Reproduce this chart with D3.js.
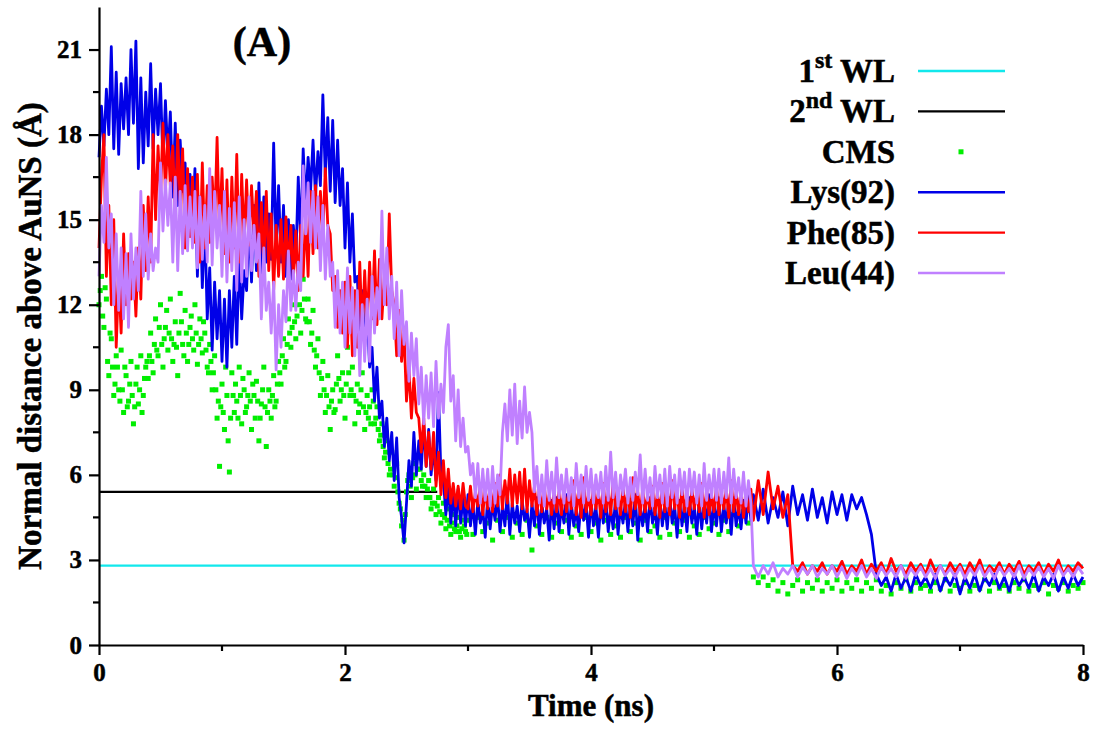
<!DOCTYPE html>
<html>
<head>
<meta charset="utf-8">
<script src="https://cdn.jsdelivr.net/npm/d3@7"></script>
<style>
  body { margin: 0; background: #fff; }
  svg { display: block; }
  text { font-family: "Liberation Serif", "Times New Roman", serif; font-weight: bold; fill: #000; stroke: #000; stroke-width: 0.5px; }
</style>
</head>
<body>
<div id="chart"></div>
<script>
// traces are read every 0.02 ns from 0 to 5.30 ns (early: 0-2.98, mid: 3.00-5.30),
// then every 0.04 ns from 5.32 to 8 ns (late)
const fine = 0.02, coarse = 0.04;
const tMid = 3, tLate = 5.32;

// Lys(92)
const lysEarly = [
  17.2, 19.0, 17.6, 19.6, 18.0, 21.1, 17.5, 20.2, 17.3, 19.8,
  18.2, 20.0, 18.0, 21.0, 18.4, 21.3, 16.8, 20.0, 17.0, 19.5,
  17.6, 20.5, 17.5, 19.6, 18.0, 19.8, 17.0, 19.2, 17.2, 18.8,
  15.8, 18.4, 15.5, 17.8, 16.0, 17.0, 14.6, 16.6, 14.8, 16.8,
  13.0, 15.8, 12.6, 15.0, 11.5, 13.3, 10.4, 12.8, 10.8, 12.5,
  10.0, 12.2, 9.8, 12.5, 10.5, 13.0, 10.6, 13.8, 11.5, 13.2,
  12.5, 15.0, 12.8, 15.5, 13.2, 16.3, 13.0, 15.8, 13.5, 15.2,
  13.6, 17.7, 14.0, 16.2, 13.5, 15.5, 13.0, 15.0, 12.9, 14.8,
  13.5, 16.5, 14.2, 17.5, 15.5, 17.2, 16.0, 17.8, 15.8, 17.4,
  16.2, 19.4, 16.5, 18.6, 16.0, 18.5, 15.6, 17.8, 15.5, 16.8,
  14.0, 16.3, 13.5, 15.2, 12.8, 13.0, 11.0, 12.5, 10.5, 11.8,
  9.8, 10.5, 8.6, 9.8, 8.0, 8.6, 7.0, 8.0, 6.5, 7.5,
  5.8, 7.3, 5.2, 4.5, 3.6, 5.0, 6.5, 5.6, 7.5, 6.0,
  7.2, 6.2, 7.8, 6.3, 7.6, 6.0, 7.0, 5.8, 8.9, 6.0,
  5.8, 4.6, 5.6, 4.3, 5.4, 4.2, 5.5, 4.3, 5.2, 4.2
];
const lysMid = [
  5.3, 4.2, 5.0, 3.9, 5.1, 4.3, 4.8, 3.8, 5.2, 4.1,
  5.0, 4.4, 5.3, 4.0, 4.9, 4.2, 5.4, 3.9, 5.0, 4.3,
  4.9, 4.0, 5.1, 4.4, 4.8, 3.8, 5.0, 4.2, 5.2, 3.9,
  5.0, 4.3, 4.8, 3.7, 5.1, 4.1, 5.2, 4.0, 4.9, 4.3,
  5.3, 3.9, 5.0, 4.2, 4.8, 4.0, 5.1, 4.4, 5.0, 3.8,
  5.1, 4.2, 4.9, 3.8, 5.0, 4.3, 5.2, 4.0, 4.8, 4.1,
  5.2, 3.9, 4.9, 4.3, 5.1, 4.0, 5.0, 4.2, 5.3, 3.7,
  4.9, 4.2, 5.0, 4.0, 5.2, 4.3, 4.8, 3.9, 5.1, 4.2,
  5.0, 4.1, 5.2, 4.3, 4.9, 3.8, 5.1, 4.2, 5.0, 4.0,
  5.2, 4.3, 4.9, 3.9, 5.1, 4.1, 5.0, 4.3, 5.3, 4.0,
  5.0, 4.2, 5.2, 4.0, 4.9, 4.3, 5.1, 3.9, 5.2, 4.2,
  4.9, 4.1, 5.1, 4.3, 5.3, 4.4
];
const lysLate = [
  5.3, 4.4, 5.5, 4.3, 5.2, 4.5, 5.4, 4.2, 5.6, 4.6, 5.3, 4.4, 5.5, 4.5, 5.2, 4.3, 5.4,
  4.6, 5.3, 4.4, 5.3, 4.8, 5.2, 4.6, 3.9, 2.5, 2.1, 2.4, 1.9, 2.5, 2.0, 2.4, 1.9, 2.5, 2.1, 2.4, 2.0, 2.5, 1.9, 2.4, 2.1, 2.5,
  1.8, 2.4, 2.0, 2.5, 1.9, 2.4, 2.1, 2.5, 2.0, 2.4, 1.9, 2.5, 2.1, 2.4, 2.0, 2.5, 1.9, 2.4, 2.1, 2.5, 1.9, 2.4, 2.0, 2.5, 2.1, 2.4
];

// Phe(85)
const pheEarly = [
  14.0, 16.5, 18.0, 13.0, 15.5, 12.0, 15.0, 10.5, 13.0, 11.0,
  14.5, 12.0, 13.8, 12.2, 13.5, 11.6, 14.0, 12.2, 15.5, 13.2,
  15.8, 13.5, 18.0, 15.0, 17.6, 15.8, 18.4, 16.0, 18.0, 16.2,
  17.6, 15.2, 18.0, 15.5, 17.5, 14.0, 16.8, 14.4, 16.5, 14.2,
  16.6, 13.5, 17.0, 14.0, 16.2, 14.2, 16.5, 14.8, 17.9, 14.5,
  16.8, 13.8, 16.4, 13.5, 16.5, 14.0, 17.3, 13.5, 16.6, 14.2,
  16.4, 14.1, 16.2, 14.5, 16.0, 13.0, 15.6, 13.4, 16.0, 13.2,
  15.2, 12.5, 14.8, 13.0, 15.0, 12.9, 15.1, 13.2, 14.8, 12.9,
  14.6, 12.5, 14.8, 13.0, 15.2, 13.0, 16.0, 13.8, 16.2, 14.0,
  16.0, 14.5, 16.8, 14.8, 14.5, 12.5, 13.0, 11.2, 12.5, 11.0,
  12.8, 10.5, 13.0, 10.2, 12.5, 10.5, 13.5, 11.0, 13.2, 11.2,
  13.5, 11.5, 13.9, 11.3, 13.6, 11.5, 13.0, 12.0, 15.2, 12.5,
  12.0, 10.2, 11.8, 10.0, 11.0, 8.6, 9.8, 8.0, 9.4, 8.2,
  8.0, 6.8, 8.0, 6.3, 7.5, 6.2, 7.5, 5.6, 6.8, 5.3,
  6.5, 5.2, 6.2, 5.0, 5.7, 4.9, 5.6, 4.8, 5.7, 4.9
];
const pheMid = [
  4.8, 5.6, 4.7, 5.4, 4.9, 5.7, 4.6, 5.5, 4.8, 5.6,
  4.7, 5.7, 4.9, 6.0, 4.8, 5.8, 5.0, 6.2, 4.9, 6.0,
  5.0, 6.1, 4.8, 6.2, 4.7, 5.8, 4.9, 5.6, 4.6, 5.5,
  4.7, 5.6, 4.8, 5.3, 4.6, 5.5, 4.7, 5.4, 4.6, 5.6,
  4.7, 5.4, 4.8, 5.8, 4.6, 5.5, 4.5, 5.9, 4.7, 5.3,
  4.6, 5.6, 4.8, 5.4, 4.5, 5.7, 4.7, 5.4, 4.6, 5.8,
  4.8, 5.3, 4.6, 5.6, 4.7, 5.5, 4.5, 5.9, 4.8, 5.4,
  4.6, 5.5, 4.7, 5.3, 4.8, 5.6, 4.6, 5.4, 4.5, 5.7,
  4.7, 5.5, 4.6, 5.8, 4.8, 5.4, 4.5, 5.6, 4.7, 5.3,
  4.6, 5.5, 4.8, 5.4, 4.7, 5.7, 4.5, 5.5, 4.6, 5.3,
  4.7, 5.6, 4.6, 5.4, 4.8, 5.5, 4.5, 5.8, 4.7, 5.4,
  4.6, 5.5, 4.5, 5.3, 4.7, 5.5
];
const pheLate = [
  4.4, 5.8, 4.6, 6.1, 4.8, 5.6, 4.5, 5.3, 2.8, 2.6, 2.9, 2.5, 2.8, 2.6, 2.9, 2.5, 2.8,
  2.6, 2.95, 2.5, 2.8, 2.6, 3.0, 2.5, 2.85, 2.6, 2.9, 2.5, 3.05, 2.6, 2.8, 2.5, 2.9, 2.6, 2.85, 2.5, 3.0, 2.6, 2.8, 2.5, 2.9, 2.6,
  2.85, 2.5, 2.9, 2.6, 3.0, 2.5, 2.8, 2.6, 2.9, 2.5, 2.85, 2.6, 2.95, 2.5, 2.8, 2.6, 2.9, 2.5, 2.85, 2.6, 3.0, 2.5, 2.8, 2.6, 2.9, 2.7
];

// Leu(44)
const leuEarly = [
  13.0, 15.5, 14.2, 17.2, 14.0, 15.2, 12.0, 14.5, 11.8, 14.0,
  11.5, 13.8, 11.2, 14.5, 12.2, 14.0, 12.5, 16.0, 13.0, 15.2,
  12.9, 14.5, 13.2, 14.0, 13.5, 17.0, 14.6, 16.4, 14.8, 16.3,
  13.5, 16.5, 13.2, 16.0, 13.8, 16.2, 13.9, 15.8, 14.0, 16.0,
  13.3, 15.8, 13.6, 15.5, 13.5, 16.8, 13.4, 16.0, 14.0, 15.5,
  13.0, 16.0, 12.8, 15.4, 13.2, 15.6, 12.5, 15.8, 12.8, 15.0,
  13.0, 15.8, 13.2, 14.8, 13.5, 14.5, 11.5, 14.0, 11.8, 12.8,
  11.0, 12.8, 9.7, 12.0, 10.5, 12.5, 11.4, 13.9, 11.8, 13.2,
  11.8, 13.5, 12.5, 16.9, 14.5, 16.3, 14.2, 16.0, 14.0, 15.8,
  13.2, 15.5, 12.9, 14.8, 13.0, 13.5, 11.2, 13.2, 11.0, 12.8,
  10.5, 13.3, 11.0, 12.6, 10.2, 12.5, 9.5, 12.0, 10.0, 12.2,
  10.0, 13.0, 11.0, 12.6, 11.5, 15.3, 12.0, 14.0, 11.5, 13.0,
  10.8, 12.8, 10.2, 12.5, 10.6, 11.4, 9.3, 11.0, 9.5, 10.8,
  8.5, 9.8, 7.8, 9.5, 8.0, 9.6, 7.7, 10.0, 8.0, 9.2,
  8.2, 10.5, 11.3, 8.6, 9.5, 7.2, 9.0, 7.0, 8.0, 6.8
];
const leuMid = [
  7.0, 6.0, 6.4, 5.2, 6.4, 5.0, 6.2, 5.1, 6.2, 4.9,
  6.3, 5.0, 6.0, 5.3, 7.5, 8.5, 7.2, 9.0, 7.4, 9.2,
  7.1, 8.6, 7.3, 9.1, 7.5, 8.2, 7.5, 5.4, 6.3, 5.0,
  6.0, 4.9, 6.5, 5.1, 6.1, 5.0, 6.6, 5.2, 6.0, 5.0,
  6.2, 5.1, 5.9, 4.9, 6.4, 5.2, 6.0, 5.0, 6.3, 5.1,
  6.2, 5.0, 6.0, 5.2, 6.1, 5.0, 6.3, 5.1, 6.8, 5.2,
  6.1, 4.9, 6.0, 5.3, 6.2, 5.0, 5.9, 5.1, 6.1, 5.3,
  6.7, 5.0, 6.2, 5.1, 5.9, 4.9, 6.3, 5.2, 6.0, 5.0,
  6.2, 4.9, 6.3, 5.2, 6.0, 5.0, 6.2, 5.3, 6.1, 4.9,
  6.2, 5.3, 6.1, 5.0, 6.0, 4.9, 6.4, 5.1, 6.0, 5.2,
  6.2, 5.1, 6.2, 5.0, 6.1, 5.2, 6.6, 5.0, 6.2, 5.2,
  5.9, 5.0, 6.1, 4.9, 5.8, 5.0
];
const leuLate = [
  2.8, 2.4, 2.8, 2.5, 2.9, 2.4, 2.7, 2.5, 2.8, 2.4, 2.75, 2.5, 2.8, 2.4, 2.7, 2.5, 2.8,
  2.4, 2.75, 2.35, 2.7, 2.45, 2.8, 2.4, 2.7, 2.35, 2.75, 2.45, 2.7, 2.4, 2.8, 2.35, 2.7, 2.45, 2.75, 2.4, 2.7, 2.35, 2.8, 2.45, 2.7, 2.4,
  2.75, 2.35, 2.7, 2.45, 2.8, 2.4, 2.7, 2.35, 2.75, 2.45, 2.7, 2.4, 2.8, 2.35, 2.7, 2.45, 2.75, 2.4, 2.7, 2.35, 2.8, 2.45, 2.7, 2.4, 2.75, 2.5
];

// CMS, 0 to 2.98 ns every 0.02 ns
const cmsEarly = [
  12.0, 13.0, 11.2, 12.2, 9.5, 10.8, 8.8, 10.2, 9.0, 10.4,
  8.2, 9.5, 8.6, 10.0, 7.8, 9.2, 8.5, 10.2, 8.8, 9.8,
  9.4, 11.0, 9.6, 11.5, 10.2, 12.0, 9.8, 11.2, 10.4, 12.2,
  10.0, 11.4, 9.5, 12.4, 10.6, 11.8, 10.0, 11.2, 10.8, 12.0,
  9.9, 11.5, 10.3, 11.0, 9.8, 10.6, 9.0, 10.2, 8.0, 6.3,
  9.2, 7.6, 8.8, 6.1, 9.6, 8.2, 8.6, 9.8, 7.8, 9.0,
  8.4, 9.6, 7.6, 8.8, 9.3, 7.2, 8.5, 9.8, 7.0, 9.0,
  8.0, 9.5, 8.6, 10.0, 9.2, 10.8, 10.0, 11.5, 10.5, 12.0,
  10.8, 12.6, 11.0, 12.9, 11.5, 12.2, 10.6, 11.8, 9.8, 10.8,
  8.8, 10.0, 8.2, 9.5, 7.6, 9.0, 8.3, 10.2, 8.6, 9.6,
  8.0, 10.5, 8.8, 9.8, 7.8, 9.2, 8.5, 9.6, 7.6, 8.8,
  8.4, 9.0, 7.8, 8.4, 7.2, 7.8, 6.6, 7.2, 6.0, 6.8,
  5.6, 6.4, 5.0, 4.2, 3.7, 5.4, 6.0, 5.2, 6.4, 5.5,
  6.6, 5.8, 6.0, 5.2, 5.8, 4.8, 5.5, 4.6, 5.2, 4.3,
  5.0, 4.1, 4.8, 3.9, 4.6, 4.0, 4.5, 3.8, 4.4, 4.0
];

// CMS, 0.01 to 2.99 ns every 0.02 ns (interleaved with cmsEarly)
const cmsEarlyB = [
  12.5, 11.6, 12.6, 10.0, 11.0, 9.8, 9.2, 9.8, 8.6, 9.0,
  9.8, 8.4, 9.2, 8.8, 8.4, 9.8, 9.0, 8.2, 9.4, 10.0,
  10.2, 10.0, 10.6, 10.4, 11.2, 10.6, 10.8, 11.8, 11.0, 10.8,
  10.6, 10.5, 11.0, 11.4, 10.2, 11.0, 10.6, 11.6, 10.4, 11.0,
  10.6, 10.8, 11.4, 10.4, 9.6, 10.0, 9.6, 9.0, 8.6, 8.4,
  8.2, 9.8, 7.2, 8.0, 8.8, 9.2, 8.0, 8.8, 9.4, 8.2,
  8.8, 8.6, 9.2, 8.0, 8.6, 8.0, 9.0, 8.4, 8.2, 8.6,
  8.8, 8.4, 9.2, 9.6, 10.2, 9.8, 10.6, 11.0, 11.2, 11.4,
  11.6, 12.0, 11.8, 12.2, 11.4, 11.4, 11.0, 10.4, 10.2, 9.6,
  9.4, 9.0, 8.8, 8.4, 8.6, 8.2, 9.2, 9.4, 9.0, 8.8,
  9.2, 9.6, 9.0, 8.8, 8.6, 8.2, 9.0, 8.4, 8.2, 8.0,
  7.8, 8.6, 8.0, 7.6, 7.4, 7.0, 6.8, 6.4, 6.2, 6.0,
  5.9, 5.4, 4.8, 4.4, 4.6, 5.8, 5.6, 5.9, 6.0, 6.2,
  6.2, 5.6, 5.6, 5.5, 5.2, 5.0, 5.0, 4.9, 4.7, 4.6,
  4.5, 4.4, 4.2, 4.3, 4.1, 4.2, 4.0, 4.1, 4.2, 3.9
];

// CMS, 3 to 8 ns every 0.04 ns
const cmsLate = [
  4.4, 3.9, 4.5, 4.0, 4.3, 3.7, 4.4, 4.0, 4.5, 3.8,
  4.3, 3.9, 4.4, 3.35, 4.2, 3.9, 4.5, 3.8, 4.3, 4.0,
  4.4, 3.8, 4.2, 3.9, 4.5, 4.0, 4.3, 3.7, 4.4, 3.9,
  4.2, 3.8, 4.5, 4.0, 4.3, 3.7, 4.4, 4.0, 4.2, 3.8,
  4.5, 3.9, 4.3, 4.0, 4.4, 3.8, 4.2, 3.9, 4.5, 4.1,
  4.3, 3.9, 4.4, 4.0, 4.6, 4.2, 4.7, 4.3, 2.4, 2.2,
  2.4, 2.1, 2.3, 1.9, 2.2, 1.8, 2.1, 2.3, 1.9, 2.2,
  2.0, 2.3, 1.9, 2.2, 2.0, 2.3, 1.9, 2.2, 2.0, 2.3,
  1.9, 2.2, 2.0, 2.3, 1.9, 2.1, 1.8, 2.2, 2.0, 2.3,
  1.9, 2.2, 2.0, 2.1, 1.9, 2.2, 2.0, 2.3, 1.9, 2.1,
  2.0, 2.2, 1.9, 2.1, 2.0, 2.3, 1.9, 2.2, 2.0, 2.1,
  1.9, 2.2, 2.0, 2.3, 1.9, 2.1, 2.0, 2.2, 1.8, 2.1,
  2.0, 2.2, 1.9, 2.1, 2.0, 2.2
];

// water layers: [level, from, to]
const wl1 = [2.8, 0, 8];
const wl2 = [5.4, 0, 2.75];

const yTicks = [0, 3, 6, 9, 12, 15, 18, 21];
const yMinor = [1.5, 4.5, 7.5, 10.5, 13.5, 16.5, 19.5];
const xTicks = [0, 2, 4, 6, 8];
const xMinor = [1, 3, 5, 7];

const legendItems = [
  { label: '1', sup: 'st', tail: ' WL', color: '#12e8ec', kind: 'line' },
  { label: '2', sup: 'nd', tail: ' WL', color: '#000', kind: 'line' },
  { label: 'CMS', color: '#00ee00', kind: 'dot' },
  { label: 'Lys(92)', color: '#0000e8', kind: 'line' },
  { label: 'Phe(85)', color: '#ff0000', kind: 'line' },
  { label: 'Leu(44)', color: '#c080ff', kind: 'line' }
];

const width = 1097, height = 729;
const x = d3.scaleLinear().domain([0, 8]).range([99, 1083]);
const y = d3.scaleLinear().domain([0, 22.5]).range([645, 7]);

const svg = d3.select('#chart').append('svg')
  .attr('width', width).attr('height', height);

const toPts = (vals, t0, dt) => vals.map((v, i) => [t0 + i * dt, v]);
const trace = (early, mid, late) => toPts(early, 0, fine)
  .concat(toPts(mid, tMid, fine))
  .concat(toPts(late, tLate, coarse));
const line = d3.line().x(d => x(d[0])).y(d => y(d[1]));

// water layer lines
[[wl2, '#000'], [wl1, '#12e8ec']].forEach(([w, c]) => {
  svg.append('line')
    .attr('x1', x(w[1])).attr('x2', x(w[2]))
    .attr('y1', y(w[0])).attr('y2', y(w[0]))
    .attr('stroke', c).attr('stroke-width', 2.4);
});

// CMS dots
const cms = toPts(cmsEarly, 0, fine)
  .concat(toPts(cmsEarlyB, 0.01, fine))
  .concat(toPts(cmsLate, tMid, coarse));
svg.append('g').selectAll('rect')
  .data(cms).enter().append('rect')
  .attr('x', d => x(d[0]) - 2.5).attr('y', d => y(d[1]) - 2.5)
  .attr('width', 5).attr('height', 5)
  .attr('fill', '#00ee00');

// residue traces
[[lysEarly, lysMid, lysLate, '#0000e8'],
 [pheEarly, pheMid, pheLate, '#ff0000'],
 [leuEarly, leuMid, leuLate, '#c080ff']]
  .forEach(([early, mid, late, c]) => {
    svg.append('path')
      .attr('d', line(trace(early, mid, late)))
      .attr('fill', 'none').attr('stroke', c)
      .attr('stroke-width', 2.8).attr('stroke-linejoin', 'round');
  });

// axes
const yAxis = svg.append('g').attr('transform', `translate(${x(0)},0)`)
  .call(d3.axisLeft(y).tickValues(yTicks).tickSize(10).tickSizeOuter(0).tickPadding(7));
yAxis.append('g').selectAll('line').data(yMinor).enter().append('line')
  .attr('x1', -6).attr('x2', 0).attr('y1', d => y(d)).attr('y2', d => y(d));

const xAxis = svg.append('g').attr('transform', `translate(0,${y(0)})`)
  .call(d3.axisBottom(x).tickValues(xTicks).tickSize(10).tickSizeOuter(0).tickPadding(8));
xAxis.append('g').selectAll('line').data(xMinor).enter().append('line')
  .attr('x1', d => x(d)).attr('x2', d => x(d)).attr('y1', 0).attr('y2', 6);

[yAxis, xAxis].forEach(a => {
  a.selectAll('path, line').attr('stroke', '#000').attr('stroke-width', 2.2);
  a.selectAll('text').attr('fill', '#000')
    .style('font-size', '25px').style('font-family', '"Liberation Serif", serif').style('font-weight', 'bold');
});

// axis titles
svg.append('text')
  .attr('transform', `translate(41,336) rotate(-90)`)
  .attr('text-anchor', 'middle').style('font-size', '33px')
  .text('Normal distance above AuNS (Å)');
svg.append('text')
  .attr('x', 591).attr('y', 716).attr('text-anchor', 'middle')
  .style('font-size', '31px').text('Time (ns)');

svg.append('text')
  .attr('x', 262).attr('y', 56).attr('text-anchor', 'middle')
  .style('font-size', '42px').text('(A)');

// legend
const leg = svg.append('g');
legendItems.forEach((d, i) => {
  const cy = 71 + i * 40.4;
  const t = leg.append('text').attr('x', 895).attr('y', cy + 11)
    .attr('text-anchor', 'end').style('font-size', '33px');
  t.append('tspan').text(d.label);
  if (d.sup) {
    t.append('tspan').attr('dy', -14).style('font-size', '24px').text(d.sup);
    t.append('tspan').attr('dy', 14).text(d.tail);
  }
  if (d.kind === 'line') {
    leg.append('line').attr('x1', 918).attr('x2', 1005)
      .attr('y1', cy).attr('y2', cy)
      .attr('stroke', d.color).attr('stroke-width', 2.4);
  } else {
    leg.append('rect').attr('x', 958.5).attr('y', cy - 2.5)
      .attr('width', 5).attr('height', 5).attr('fill', d.color);
  }
});
</script>
</body>
</html>
